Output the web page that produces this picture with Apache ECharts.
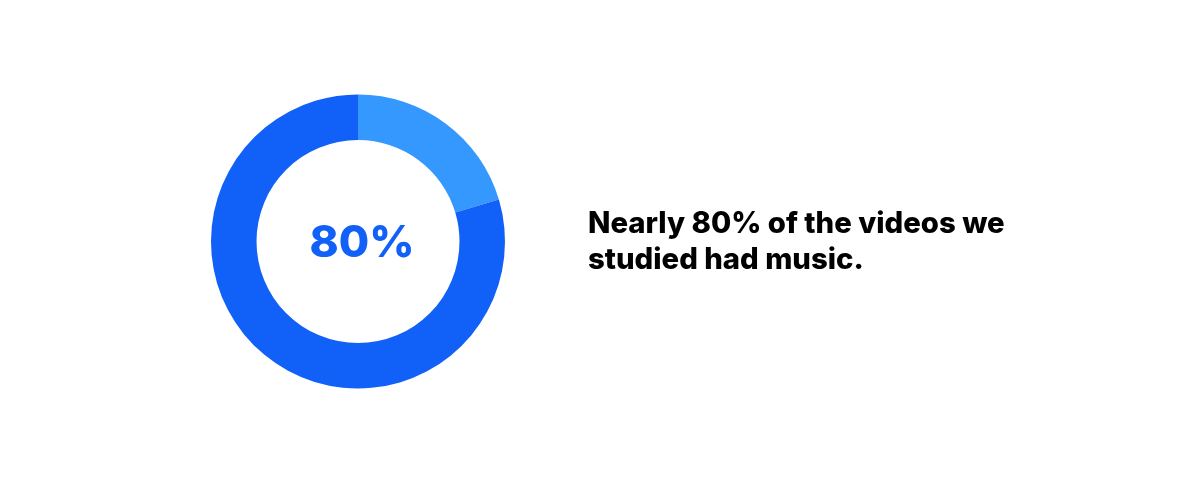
<!DOCTYPE html>
<html>
<head>
<meta charset="utf-8">
<script src="https://cdn.jsdelivr.net/npm/echarts@6/dist/echarts.min.js"></script>
<style>
  html, body { margin: 0; padding: 0; background: #fff; }
  #chart { width: 1200px; height: 483px; }
</style>
</head>
<body>
<div id="chart"></div>
<script>
// slices go clockwise from 12 o'clock
const sliceNames = ['No music', 'Music']
const sliceValues = [20.4, 79.6]
const sliceColors = ['#3598FE', '#1160F7']
const centerLabel = '80%'
const caption = 'Nearly 80% of the videos we\nstudied had music.'

const chart = echarts.init(document.getElementById('chart'))

chart.setOption({
  animation: false,
  title: [{
    text: centerLabel,
    left: 357,
    top: 217,
    textAlign: 'center',
    textStyle: {
      fontFamily: 'Inter',
      fontSize: 44,
      fontWeight: 800,
      color: '#1160F7'
    }
  }, {
    text: caption,
    left: 583,
    top: 201,
    textStyle: {
      fontFamily: 'Inter',
      fontSize: 29.3,
      fontWeight: 800,
      color: '#000',
      lineHeight: 36
    }
  }],
  series: [{
    type: 'pie',
    center: [358, 241.5],
    radius: [101.5, 147],
    startAngle: 90,
    clockwise: true,
    label: { show: false },
    labelLine: { show: false },
    emphasis: { disabled: true },
    itemStyle: { borderWidth: 0 },
    data: sliceNames.map((name, i) => ({
      name: name,
      value: sliceValues[i],
      itemStyle: { color: sliceColors[i] }
    }))
  }]
})
</script>
</body>
</html>
